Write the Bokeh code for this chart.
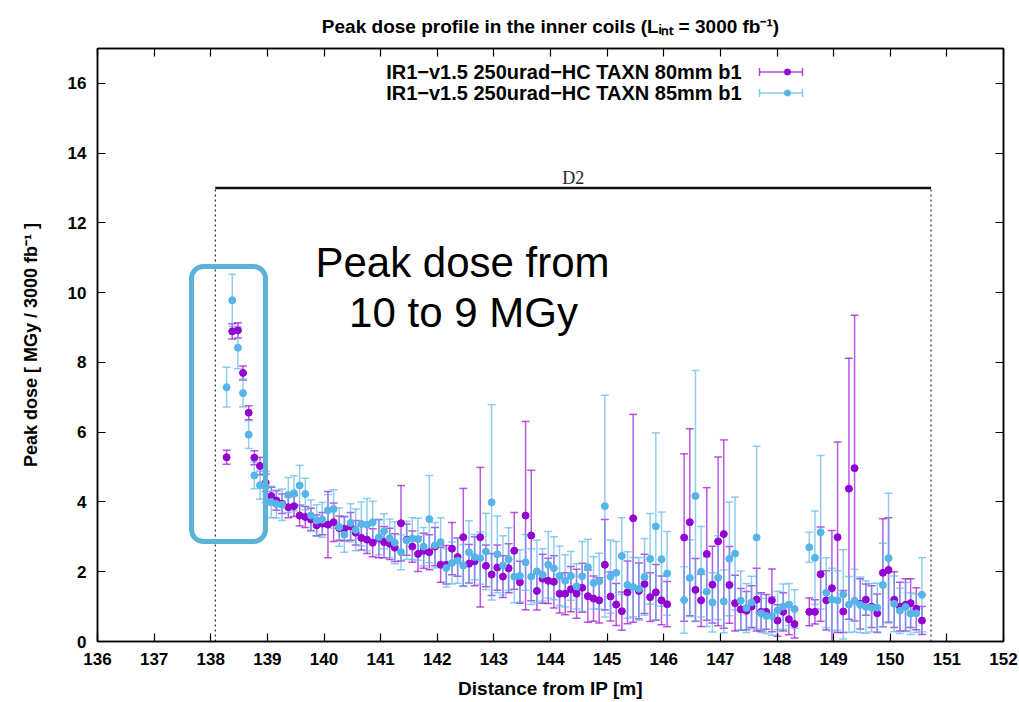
import numpy as np
from bokeh.plotting import figure
from bokeh.models import (Range1d, ColumnDataSource, Whisker, TeeHead, Label,
                          BoxAnnotation, LinearAxis, FixedTicker)
from bokeh.embed import file_html
from bokeh.resources import INLINE

# ---------------- data ----------------
distance = [138.28, 138.38, 138.48, 138.57, 138.67, 138.77, 138.87, 138.97, 139.07, 139.16,
            139.26, 139.37, 139.47, 139.57, 139.67, 139.77, 139.87, 139.97, 140.07, 140.17,
            140.27, 140.36, 140.47, 140.56, 140.66, 140.76, 140.86, 140.97, 141.06, 141.16,
            141.25, 141.36, 141.46, 141.56, 141.66, 141.76, 141.86, 141.96, 142.06, 142.16,
            142.26, 142.36, 142.46, 142.56, 142.66, 142.76, 142.86, 142.96, 143.06, 143.16,
            143.26, 143.36, 143.46, 143.56, 143.66, 143.76, 143.86, 143.96, 144.06, 144.16,
            144.26, 144.36, 144.46, 144.56, 144.66, 144.76, 144.86, 144.96, 145.06, 145.16,
            145.26, 145.36, 145.46, 145.56, 145.66, 145.76, 145.86, 145.96, 146.06, 146.36,
            146.46, 146.56, 146.66, 146.76, 146.86, 146.96, 147.06, 147.16, 147.26, 147.36,
            147.46, 147.55, 147.64, 147.72, 147.81, 147.91, 148.01, 148.11, 148.21, 148.31,
            148.57, 148.67, 148.77, 148.87, 148.97, 149.07, 149.17, 149.27, 149.37, 149.47,
            149.57, 149.67, 149.77, 149.87, 149.97, 150.07, 150.17, 150.27, 150.36, 150.46,
            150.56]

dose_80mm = [5.28, 8.89, 8.92, 7.70, 6.56, 5.27, 5.03, 4.55, 4.17, 4.04,
             3.95, 3.85, 3.88, 3.61, 3.57, 3.50, 3.33, 3.38, 3.35, 3.42,
             3.25, 3.23, 3.30, 3.12, 2.97, 2.92, 2.83, 2.95, 2.85, 2.80,
             2.69, 3.39, 2.92, 2.72, 2.51, 2.60, 2.56, 2.72, 2.20, 2.20,
             2.66, 2.42, 2.99, 2.23, 2.30, 2.99, 2.17, 1.92, 2.12, 1.86,
             2.10, 2.60, 1.70, 3.61, 3.04, 1.45, 1.80, 1.74, 1.71, 1.37,
             1.37, 1.50, 1.37, 1.54, 1.30, 1.23, 1.18, 2.20, 1.29, 1.06,
             0.87, 1.41, 3.53, 1.45, 1.65, 1.27, 1.41, 1.18, 1.07, 2.98,
             3.42, 1.48, 1.18, 2.51, 1.63, 2.87, 3.08, 1.62, 1.10, 0.92,
             0.88, 1.00, 1.20, 0.85, 0.85, 1.18, 0.60, 0.85, 0.64, 0.50,
             0.85, 0.85, 1.93, 1.18, 1.53, 2.99, 0.86, 4.38, 4.97, 1.08,
             1.20, 1.00, 0.81, 1.97, 2.05, 1.20, 1.00, 1.05, 1.10, 0.94,
             0.60]

err_80mm = [0.20, 0.22, 0.22, 0.20, 0.20, 0.20, 0.25, 0.25, 0.25, 0.28,
            0.28, 0.30, 0.30, 0.30, 0.30, 0.32, 0.30, 0.32, 0.95, 0.55,
            0.35, 0.35, 0.40, 0.35, 0.35, 0.40, 0.40, 0.55, 0.45, 0.45,
            0.40, 1.08, 0.45, 0.45, 0.50, 0.50, 0.50, 0.55, 0.50, 0.55,
            0.75, 0.55, 1.40, 0.55, 0.70, 2.00, 0.60, 0.60, 0.65, 0.60,
            0.70, 1.10, 0.60, 2.70, 1.87, 0.55, 0.70, 0.65, 0.75, 0.55,
            0.60, 0.65, 0.70, 0.70, 0.75, 0.65, 0.65, 1.30, 0.70, 0.60,
            0.55, 0.90, 2.98, 0.80, 0.85, 0.70, 0.80, 0.70, 0.65, 2.40,
            2.68, 0.90, 0.75, 1.90, 1.10, 2.42, 2.70, 1.10, 0.80, 0.60,
            0.55, 0.60, 0.90, 0.55, 0.50, 0.90, 0.45, 0.55, 0.45, 0.40,
            0.40, 0.35, 1.35, 0.85, 1.65, 2.73, 0.60, 3.74, 4.38, 0.72,
            0.45, 0.60, 0.55, 1.55, 1.50, 0.80, 0.70, 0.75, 0.70, 0.60,
            0.40]

dose_85mm = [7.29, 9.78, 8.42, 7.12, 5.93, 4.76, 4.48, 4.43, 4.00, 3.94,
             3.92, 4.20, 4.25, 4.47, 4.23, 3.61, 3.47, 3.49, 3.76, 3.80,
             3.28, 3.06, 3.40, 3.20, 3.37, 3.35, 3.42, 2.99, 3.16, 2.96,
             2.83, 2.56, 2.90, 2.95, 2.93, 2.72, 3.51, 2.76, 2.85, 2.11,
             2.25, 2.32, 2.18, 2.56, 2.42, 2.39, 2.58, 3.99, 2.50, 2.18,
             2.36, 1.86, 1.88, 2.27, 1.86, 2.01, 1.91, 2.20, 2.10, 1.88,
             1.74, 1.88, 1.58, 1.87, 2.13, 1.68, 1.73, 3.88, 1.86, 1.97,
             2.45, 1.62, 1.56, 1.51, 1.85, 2.37, 3.30, 2.36, 1.95, 1.19,
             1.82, 4.17, 2.00, 1.43, 1.12, 1.83, 1.15, 2.37, 2.52, 1.17,
             0.96, 1.12, 2.98, 0.81, 0.73, 0.73, 0.89, 1.00, 1.06, 0.93,
             2.70, 2.40, 3.13, 1.40, 1.20, 1.18, 1.35, 1.06, 1.17, 1.05,
             0.99, 0.97, 0.97, 1.62, 2.39, 1.08, 0.88, 0.99, 0.80, 0.81,
             1.34]

err_85mm = [0.57, 0.75, 0.60, 0.40, 0.40, 0.38, 0.40, 0.45, 0.45, 0.40,
            0.45, 0.50, 0.50, 0.58, 0.45, 0.45, 0.45, 0.50, 0.45, 0.55,
            0.55, 0.50, 0.55, 0.60, 0.63, 0.75, 0.60, 0.50, 0.50, 0.55,
            0.60, 0.50, 0.55, 0.60, 0.60, 0.55, 1.25, 0.65, 0.70, 0.55,
            0.60, 0.65, 0.60, 0.90, 0.65, 0.75, 1.10, 2.80, 1.10, 0.85,
            0.90, 0.75, 0.75, 0.80, 0.80, 0.90, 0.75, 0.95, 0.90, 0.85,
            0.75, 0.70, 0.65, 1.00, 0.80, 0.75, 0.80, 3.18, 1.05, 0.90,
            1.10, 0.95, 0.85, 0.90, 1.10, 1.30, 2.68, 1.35, 1.20, 0.95,
            1.10, 3.60, 1.30, 1.00, 0.85, 1.20, 0.90, 1.63, 1.62, 0.85,
            0.70, 0.75, 2.62, 0.55, 0.50, 0.55, 0.55, 0.65, 0.60, 0.55,
            0.43, 1.34, 2.20, 1.00, 0.90, 0.85, 1.28, 0.80, 0.90, 0.80,
            0.75, 0.70, 0.70, 1.20, 1.86, 0.80, 0.65, 0.70, 0.60, 0.55,
            1.06]

series_names = ["IR1\u2212v1.5 250urad\u2212HC TAXN 80mm b1",
                "IR1\u2212v1.5 250urad\u2212HC TAXN 85mm b1"]
x_ticks = list(range(136, 153))
y_ticks = list(range(0, 17, 2))

# D2 magnet extent
d2_start, d2_end, d2_level = 138.08, 150.72, 13.0

# ---------------- layout / styles ----------------
W, H = 1019, 702
L, R, T, B = 97, 16, 48, 61
X0, X1, Y0, Y1 = 136.0, 152.0, 0.0, 17.0
PURPLE = "#9400D3"
BLUE = "#56B4E9"
HILITE = "#5BB4D8"
FONT = "Liberation Sans"


def dx(px):
    return X0 + (px - L) / (W - L - R) * (X1 - X0)


def dy(py):
    return Y1 - (py - T) / (H - T - B) * (Y1 - Y0)


p = figure(width=W, height=H, x_range=Range1d(X0, X1), y_range=Range1d(Y0, Y1),
           output_backend="svg", toolbar_location=None,
           min_border_left=L, min_border_right=R, min_border_top=T, min_border_bottom=B)
p.grid.visible = False
p.outline_line_color = "black"
p.outline_line_width = 1.5
p.background_fill_color = "white"
p.border_fill_color = "white"

# title (unicode sub/superscripts)
p.title.text = "Peak dose profile in the inner coils (L\u1d62\u2099\u209c = 3000 fb\u207b\u00b9)"
p.title.align = "center"
p.title.text_font = FONT
p.title.text_font_style = "bold"
p.title.text_font_size = "19px"
p.title.text_color = "black"
try:
    p.title.standoff = 24
except Exception:
    pass

# bottom / left axes
xa = p.xaxis[0]
xa.ticker = FixedTicker(ticks=x_ticks)
ya = p.yaxis[0]
ya.ticker = FixedTicker(ticks=y_ticks)
for ax in (xa, ya):
    ax.major_tick_in = 8
    ax.major_tick_out = 0
    ax.minor_tick_line_color = None
    ax.axis_line_width = 1.5
    ax.major_tick_line_width = 1.2
    ax.major_label_text_font = FONT
    ax.major_label_text_font_style = "bold"
    ax.major_label_text_font_size = "17px"
    ax.major_label_text_color = "black"
    ax.major_label_standoff = 11
    ax.axis_label_text_font = FONT
    ax.axis_label_text_font_style = "bold"
    ax.axis_label_text_color = "black"
xa.axis_label = "Distance from IP [m]"
xa.axis_label_text_font_size = "19px"
xa.axis_label_standoff = 10
ya.axis_label = "Peak dose [ MGy / 3000 fb\u207b\u00b9 ]"
ya.axis_label_text_font_size = "18px"
ya.axis_label_standoff = 24

# mirrored ticks (top / right), no labels
for loc, ticks in (("above", x_ticks), ("right", y_ticks)):
    ax = LinearAxis(ticker=FixedTicker(ticks=ticks), major_tick_in=8, major_tick_out=0,
                    minor_tick_line_color=None, major_label_text_color=None,
                    major_label_text_font_size="1px", major_label_standoff=0,
                    axis_line_width=1.5, major_tick_line_width=1.2)
    p.add_layout(ax, loc)

# D2 bracket
p.segment(x0=[d2_start, d2_end], y0=[Y0, Y0], x1=[d2_start, d2_end], y1=[d2_level, d2_level],
          line_color="black", line_width=1, line_dash="2 3")
p.segment(x0=[d2_start], y0=[d2_level], x1=[d2_end], y1=[d2_level],
          line_color="#111111", line_width=2.5)
p.add_layout(Label(x=(d2_start + d2_end) / 2, y=d2_level, y_offset=10, text="D2",
                   text_align="center", text_baseline="alphabetic",
                   text_font="Liberation Serif", text_font_size="18px", text_color="#222222"))

# error bars + points
for ys, es, col in ((dose_80mm, err_80mm, PURPLE), (dose_85mm, err_85mm, BLUE)):
    lo = [y - e for y, e in zip(ys, es)]
    hi = [y + e for y, e in zip(ys, es)]
    src = ColumnDataSource(dict(x=distance, y=ys, lo=lo, hi=hi))
    w = Whisker(source=src, base="x", lower="lo", upper="hi", dimension="height",
                line_color=col, line_alpha=0.65, line_width=1.5,
                lower_head=TeeHead(size=8, line_color=col, line_alpha=0.65, line_width=1.5),
                upper_head=TeeHead(size=8, line_color=col, line_alpha=0.65, line_width=1.5))
    p.add_layout(w)
for ys, col in ((dose_80mm, PURPLE), (dose_85mm, BLUE)):
    p.scatter(distance, ys, size=7, fill_color=col, line_color=col)

# legend (gnuplot style: text then sample on the right)
for i, (name, col) in enumerate(zip(series_names, (PURPLE, BLUE))):
    yrow = dy(71.5 + 21 * i)
    p.add_layout(Label(x=dx(741), y=yrow, text=name, text_align="right", text_baseline="middle",
                       text_font=FONT, text_font_style="bold", text_font_size="20px",
                       text_color="black"))
    lsrc = ColumnDataSource(dict(y=[yrow], lo=[dx(759)], hi=[dx(802)]))
    p.add_layout(Whisker(source=lsrc, base="y", lower="lo", upper="hi", dimension="width",
                         line_color=col, line_alpha=0.7, line_width=1.5, level="overlay",
                         lower_head=TeeHead(size=8, line_color=col, line_alpha=0.7, line_width=1.5),
                         upper_head=TeeHead(size=8, line_color=col, line_alpha=0.7, line_width=1.5)))
    p.scatter([dx(787)], [yrow], size=6, fill_color=col, line_color=col)

# highlight box and big annotation text
p.add_layout(BoxAnnotation(left=dx(191), right=dx(265), top=dy(266), bottom=dy(541),
                           fill_alpha=0, line_color=HILITE, line_alpha=1.0, line_width=5,
                           border_radius=12, level="overlay"))
p.add_layout(Label(x=dx(462), y=dy(262), text="Peak dose from", text_align="center",
                   text_baseline="alphabetic", text_font=FONT, text_font_size="42px",
                   text_color="black"))
p.add_layout(Label(x=dx(463), y=dy(312), text="10 to 9 MGy", text_align="center",
                   text_baseline="alphabetic", text_font=FONT, text_font_size="42px",
                   text_color="black"))

open("out.html", "w").write(file_html(p, INLINE))
